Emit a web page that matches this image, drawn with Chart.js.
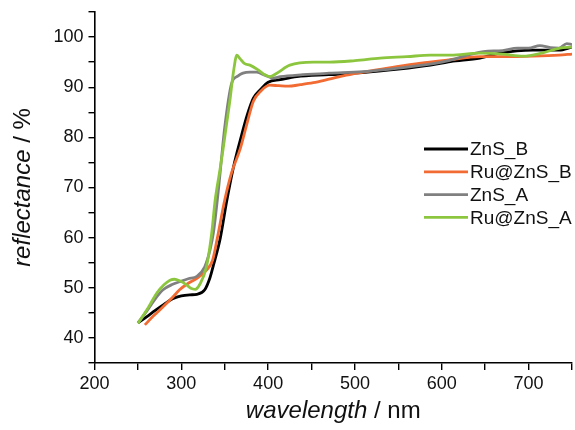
<!DOCTYPE html>
<html>
<head>
<meta charset="utf-8">
<script src="https://cdn.jsdelivr.net/npm/chart.js@4.4.1/dist/chart.umd.min.js"></script>
<style>
  html, body { margin: 0; padding: 0; background: #fff; }
  #wrap { width: 575px; height: 430px; }
</style>
</head>
<body>
<div id="wrap"><canvas id="chart" width="575" height="430"></canvas></div>
<script>
// wavelength (nm) and reflectance (%)
const wlZnSB = [250, 260, 270, 280, 290, 300, 310, 318, 327, 333, 337, 345, 352, 360, 368, 376, 383, 391, 400, 414, 433, 470, 509, 550, 587, 610, 644, 667, 705, 735, 750];
const rZnSB = [43, 44.2, 45.5, 46.7, 47.8, 48.4, 48.6, 48.7, 49.6, 52, 54.5, 60, 67, 74, 79.5, 84.5, 87.8, 89.5, 91, 91.5, 92.1, 92.5, 92.9, 93.6, 94.4, 95.1, 95.8, 96.8, 97.4, 97.4, 98];

const wlRuZnSB = [258, 268, 279, 290, 298, 308, 318, 329, 336, 341, 350, 358, 368, 376, 383, 392, 402, 412, 423, 437, 452, 470, 490, 520, 548, 576, 606, 644, 675, 705, 735, 750];
const rRuZnSB = [42.6, 44.4, 46.2, 48.1, 49.6, 50.9, 51.9, 53.5, 55.5, 59.5, 67.5, 73, 77.8, 83, 87.2, 89.3, 90.4, 90.3, 90.2, 90.5, 90.9, 91.6, 92.4, 93.3, 94.1, 94.8, 95.4, 96.1, 96.1, 96.2, 96.4, 96.6];

const wlZnSA = [250, 260, 270, 279, 290, 298, 308, 318, 327, 333, 337, 343, 350, 358, 365, 371, 379, 387, 396, 406, 414, 440, 470, 509, 550, 600, 648, 670, 687, 700, 713, 725, 735, 744, 750];
const rZnSA = [43, 45.3, 47.8, 49.6, 50.7, 51.2, 51.8, 52.3, 54.2, 57.5, 61, 70, 82, 90.8, 92.2, 92.8, 93, 93, 92.4, 91.8, 92.1, 92.5, 92.8, 93.1, 93.8, 95, 97.1, 97.3, 97.8, 97.8, 98.3, 97.9, 97.8, 98.7, 98.5];

const wlRuZnSA = [250, 260, 272, 280, 287, 292, 298, 306, 311, 316, 321, 329, 335, 339, 344, 348, 352, 356, 360, 364, 368, 373, 379, 388, 395, 402, 410, 425, 452, 471, 500, 529, 560, 587, 610, 644, 670, 694, 715, 736, 750];
const rRuZnSA = [42.9, 45.5, 49, 50.6, 51.5, 51.7, 51.4, 50.6, 49.9, 49.7, 50.6, 54.2, 60.9, 67.5, 73, 77.5, 82.5, 87.4, 93, 96.4, 95.6, 94.7, 94.4, 93.5, 92.6, 92.1, 92.8, 94.4, 95, 95, 95.3, 95.8, 96.1, 96.4, 96.4, 96.8, 96.6, 96.2, 96.8, 97.8, 98];

const seriesNames = ["ZnS_B", "Ru@ZnS_B", "ZnS_A", "Ru@ZnS_A"];
const seriesColors = ["#000000", "#f26b32", "#808080", "#8cc63f"];
const xTicks = [200, 300, 400, 500, 600, 700];
const yTicks = [40, 50, 60, 70, 80, 90, 100];

const FONT = "'Liberation Sans', Arial, sans-serif";
const pairs = [[wlZnSB, rZnSB], [wlRuZnSB, rRuZnSB], [wlZnSA, rZnSA], [wlRuZnSA, rRuZnSA]];

const datasets = pairs.map(([wl, r], i) => ({
  label: seriesNames[i],
  data: wl.map((x, k) => ({ x, y: r[k] })),
  borderColor: seriesColors[i],
  borderWidth: 2.8,
  pointRadius: 0,
  cubicInterpolationMode: "monotone",
  fill: false,
  order: seriesNames.length - i
}));

// axis titles with an italic quantity and upright unit
const axisTitles = {
  id: "axisTitles",
  afterDraw(chart) {
    const { ctx, chartArea } = chart;
    const drawMixed = (parts, size) => {
      let total = 0;
      parts.forEach((p) => { ctx.font = p[1] + " " + size + "px " + FONT; total += ctx.measureText(p[0]).width; });
      let x = -total / 2;
      parts.forEach((p) => {
        ctx.font = p[1] + " " + size + "px " + FONT;
        ctx.fillText(p[0], x, 0);
        x += ctx.measureText(p[0]).width;
      });
    };
    ctx.save();
    ctx.fillStyle = "#111";
    ctx.textBaseline = "middle";
    ctx.textAlign = "left";
    ctx.translate((chartArea.left + chartArea.right) / 2, 411);
    drawMixed([["wavelength", "italic"], [" / nm", "normal"]], 24);
    ctx.restore();
    ctx.save();
    ctx.fillStyle = "#111";
    ctx.textBaseline = "middle";
    ctx.textAlign = "left";
    ctx.translate(23, (chartArea.top + chartArea.bottom) / 2);
    ctx.rotate(-Math.PI / 2);
    drawMixed([["reflectance", "italic"], [" / %", "normal"]], 24);
    ctx.restore();
  }
};

const lineLegend = {
  id: "lineLegend",
  afterDraw(chart) {
    const { ctx } = chart;
    ctx.save();
    ctx.font = "19px " + FONT;
    ctx.textBaseline = "middle";
    ctx.fillStyle = "#111";
    seriesNames.forEach((name, i) => {
      const y = 149 + i * 22.8;
      ctx.strokeStyle = seriesColors[i];
      ctx.lineWidth = 2.8;
      ctx.beginPath();
      ctx.moveTo(424, y);
      ctx.lineTo(468, y);
      ctx.stroke();
      ctx.fillText(name, 470, y + 1);
    });
    ctx.restore();
  }
};

new Chart(document.getElementById("chart"), {
  type: "line",
  data: { datasets },
  options: {
    responsive: false,
    animation: false,
    layout: { padding: { top: 12, right: 3, left: 0, bottom: 0 } },
    plugins: { legend: { display: false }, tooltip: { enabled: false } },
    scales: {
      x: {
        type: "linear",
        min: 200,
        max: 750,
        border: { color: "#000", width: 1.6 },
        grid: { drawOnChartArea: false, drawTicks: true, tickLength: 7, color: "#000", lineWidth: 1.4 },
        ticks: {
          stepSize: 50,
          autoSkip: false,
          maxRotation: 0,
          padding: 3,
          color: "#111",
          font: { family: FONT, size: 18 },
          callback: (v) => (xTicks.includes(v) ? String(v) : "")
        },
        afterFit(scale) { scale.height = 67; scale.paddingLeft = 0; scale.paddingRight = 0; }
      },
      y: {
        type: "linear",
        min: 35,
        max: 105,
        border: { color: "#000", width: 1.6 },
        grid: { drawOnChartArea: false, drawTicks: true, tickLength: 6, color: "#000", lineWidth: 1.4 },
        ticks: {
          stepSize: 5,
          autoSkip: false,
          padding: 5,
          color: "#111",
          font: { family: FONT, size: 18 },
          callback: (v) => (yTicks.includes(v) ? String(v) : "")
        },
        afterFit(scale) { scale.width = 94.5; scale.paddingTop = 0; scale.paddingBottom = 0; }
      }
    }
  },
  plugins: [axisTitles, lineLegend]
});
</script>
</body>
</html>
